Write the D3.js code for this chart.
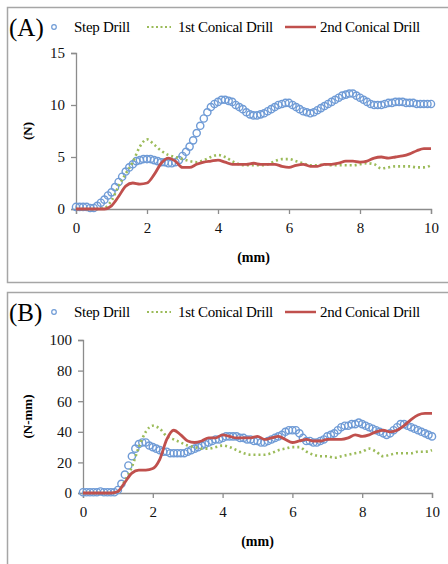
<!DOCTYPE html>
<html>
<head>
<meta charset="utf-8">
<script src="https://cdn.jsdelivr.net/npm/d3@7"></script>
<style>
  body { margin: 0; background: #fff; }
  svg text { font-family: "Liberation Serif", "Times New Roman", Times, "DejaVu Serif", serif !important; }
</style>
</head>
<body>
<div id="chart"></div>
<script>
// Drilling force (A) and torque (B) vs. depth for three drills

// depth grid for step drill (circle markers), mm
const depthFine = [0,0.1,0.2,0.3,0.4,0.5,0.6,0.7,0.8,0.9,1,1.1,1.2,1.3,1.4,1.5,1.6,1.7,1.8,1.9,2,
  2.1,2.2,2.3,2.4,2.5,2.6,2.7,2.8,2.9,3,3.1,3.2,3.3,3.4,3.5,3.6,3.7,3.8,3.9,4,
  4.1,4.2,4.3,4.4,4.5,4.6,4.7,4.8,4.9,5,5.1,5.2,5.3,5.4,5.5,5.6,5.7,5.8,5.9,6,
  6.1,6.2,6.3,6.4,6.5,6.6,6.7,6.8,6.9,7,7.1,7.2,7.3,7.4,7.5,7.6,7.7,7.8,7.9,8,
  8.1,8.2,8.3,8.4,8.5,8.6,8.7,8.8,8.9,9,9.1,9.2,9.3,9.4,9.5,9.6,9.7,9.8,9.9,10];

// depth grid for the two conical drills (lines), mm
const depthCoarse = [0,0.2,0.4,0.6,0.8,1,1.2,1.4,1.6,1.8,2,2.2,2.4,2.6,2.8,3,3.2,3.4,3.6,3.8,4,
  4.2,4.4,4.6,4.8,5,5.2,5.4,5.6,5.8,6,6.2,6.4,6.6,6.8,7,7.2,7.4,7.6,7.8,8,
  8.2,8.4,8.6,8.8,9,9.2,9.4,9.6,9.8,10];

// (A) thrust force, N
const stepForce = [0.2,0.2,0.2,0.2,0.1,0.1, 0.3,0.6,0.9,1.3,1.6, 2.1,2.6,3.1,3.6,4.0,
  4.3,4.6,4.7,4.8,4.8, 4.8,4.7,4.6,4.5,4.5, 4.4,4.4,4.5,4.7,5.1,
  5.5,6.0,6.6,7.3,8.0, 8.7,9.3,9.8,10.1,10.3, 10.5,10.5,10.4,10.3,10.0,
  9.8,9.6,9.3,9.1,9.0, 9.0,9.1,9.2,9.4,9.6, 9.8,10.0,10.1,10.2,10.2,
  10.0,9.8,9.6,9.4,9.3, 9.2,9.3,9.5,9.7,9.9, 10.1,10.3,10.5,10.7,10.9,
  11.0,11.1,11.1,10.9,10.7, 10.5,10.3,10.1,10.0,10.0, 10.0,10.1,10.2,10.2,10.3,
  10.3,10.3,10.2,10.2,10.2, 10.1,10.1,10.1,10.1,10.1];
const conical1Force = [0,0,0,0,0.1,0.8,2.2,3.4,4.5,6.0, 6.7,6.2,5.6,5.2,5.0,4.8,4.6,4.5,4.7,5.0,
  5.2,5.0,4.6,4.3,4.2,4.2,4.2,4.3,4.6,4.8, 4.8,4.6,4.4,4.2,4.2,4.3,4.2,4.2,4.2,4.2,
  4.3,4.4,4.3,3.9,4.0,4.1,4.1,4.1,4.0,4.0, 4.2];
const conical2Force = [0,0,0,0,0,0.3,1.2,2.2,2.5,2.4, 2.5,3.3,4.4,4.9,4.6,4.0,4.0,4.3,4.5,4.6,
  4.7,4.5,4.3,4.3,4.3,4.4,4.3,4.3,4.3,4.1, 4.0,4.2,4.3,4.1,4.1,4.3,4.3,4.4,4.6,4.6,
  4.5,4.6,4.9,5.0,4.9,5.0,5.1,5.3,5.6,5.8, 5.8];

// (B) torque, N-mm
const stepTorque = [0.5,0.5,0.5,0.5,0.5,1.0, 0.5,0.5,0.5,0.5,2, 6,12,18,24,29,
  32,33,33,31,30, 29,28,27,27,26, 26,26,26,26,27, 28,29,30,31,32, 33,34,35,35,36,
  37,37,37,37,36, 36,35,35,34,34, 33,33,34,35,36, 37,38,40,41,41,
  41,39,36,34,34, 33,33,34,35,37, 38,39,41,43,44, 44,45,45,46,45,
  44,43,42,41,40, 39,38,39,41,43, 45,45,44,43,42, 41,40,39,38,37];
const conical1Torque = [0,0,0,0,0,1,8,17,30,40, 44,42,37,35,33,31,30,29,29,30,
  31,30,28,26,25,25,25,26,28,29, 30,30,27,25,24,24,23,24,25,26,
  27,29,27,24,25,26,26,26,27,27, 28];
const conical2Torque = [0,0,0,0,0,1,7,13,15,15, 16,22,35,41,38,34,33,34,36,36,
  38,37,36,36,36,37,35,36,37,35, 33,34,35,34,34,35,35,35,36,38,
  37,38,40,41,40,41,44,48,51,52, 52];

const xTicks = [0, 2, 4, 6, 8, 10];
const forceTicks = [0, 5, 10, 15];
const torqueTicks = [0, 20, 40, 60, 80, 100];
const seriesNames = ["Step Drill", "1st Conical Drill", "2nd Conical Drill"];

const W = 448, H = 564;
const BLUE = "#6f9bd6", GREEN = "#9bbb59", RED = "#c0504d", AXIS = "#8c8c8c";
const SERIF = "'Liberation Serif', 'Times New Roman', Times, 'DejaVu Serif', serif";

let svg = d3.select("#chart").append("svg")
    .attr("width", W)
    .attr("height", H)
    .attr("font-family", SERIF)
    .style("background", "#fff");

function drawPanel(cfg) {
    let g = svg.append("g");

    // panel frame
    g.append("rect")
        .attr("x", 7.5).attr("y", cfg.boxTop)
        .attr("width", 460).attr("height", cfg.boxH)
        .attr("fill", "none")
        .attr("stroke", "#a6a6a6")
        .attr("stroke-width", 1.5);

    let x = d3.scaleLinear().domain([0, 10]).range([cfg.left, cfg.right]);
    let y = d3.scaleLinear().domain([0, cfg.yMax]).range([cfg.bottom, cfg.top]);

    let xAxis = g.append("g")
        .attr("transform", `translate(0, ${cfg.bottom})`)
        .call(d3.axisBottom(x).tickValues(xTicks).tickSize(5).tickPadding(8));
    let yAxis = g.append("g")
        .attr("transform", `translate(${cfg.left}, 0)`)
        .call(d3.axisLeft(y).tickValues(cfg.yTicks).tickSize(5).tickPadding(6));
    [xAxis, yAxis].forEach(function(a) {
        a.attr("font-family", SERIF).attr("font-size", 15);
        a.select(".domain").attr("stroke", AXIS).attr("stroke-width", 1.3);
        a.selectAll(".tick line").attr("stroke", AXIS).attr("stroke-width", 1.3);
        a.selectAll(".tick text").attr("fill", "#111");
    });

    // axis titles
    g.append("text")
        .attr("x", (cfg.left + cfg.right) / 2)
        .attr("y", cfg.bottom + 53)
        .attr("text-anchor", "middle")
        .style("font-size", "14px")
        .style("font-weight", "bold")
        .text("(mm)");
    g.append("text")
        .attr("transform", `translate(32, ${(cfg.top + cfg.bottom) / 2}) rotate(-90)`)
        .attr("text-anchor", "middle")
        .style("font-size", "13px")
        .style("font-weight", "bold")
        .text(cfg.yLabel);

    let line = d3.line()
        .x(function(d) { return x(d[0]); })
        .y(function(d) { return y(d[1]); })
        .curve(d3.curveMonotoneX);

    // step drill markers
    g.append("g").selectAll("circle")
        .data(d3.zip(depthFine, cfg.step))
        .enter()
        .append("circle")
        .attr("cx", function(d) { return x(d[0]); })
        .attr("cy", function(d) { return y(d[1]); })
        .attr("r", 3.6)
        .attr("fill", "none")
        .attr("stroke", BLUE)
        .attr("stroke-width", 1.4);

    g.append("path")
        .datum(d3.zip(depthCoarse, cfg.conical1))
        .attr("d", line)
        .attr("fill", "none")
        .attr("stroke", GREEN)
        .attr("stroke-width", 2.6)
        .attr("stroke-dasharray", "2,3");

    g.append("path")
        .datum(d3.zip(depthCoarse, cfg.conical2))
        .attr("d", line)
        .attr("fill", "none")
        .attr("stroke", RED)
        .attr("stroke-width", 2.8);

    // panel letter and legend
    let ly = cfg.legendY;
    g.append("text")
        .attr("x", 9).attr("y", ly + 9)
        .style("font-size", "25px")
        .text(cfg.letter);
    g.append("circle")
        .attr("cx", 54).attr("cy", ly)
        .attr("r", 2.3)
        .attr("fill", "none")
        .attr("stroke", BLUE)
        .attr("stroke-width", 1.2);
    g.append("line")
        .attr("x1", 147).attr("x2", 171).attr("y1", ly).attr("y2", ly)
        .attr("stroke", GREEN).attr("stroke-width", 2).attr("stroke-dasharray", "2,2.5");
    g.append("line")
        .attr("x1", 285).attr("x2", 316).attr("y1", ly).attr("y2", ly)
        .attr("stroke", RED).attr("stroke-width", 2.5);
    let legendX = [74, 178, 320];
    seriesNames.forEach(function(name, i) {
        g.append("text")
            .attr("x", legendX[i]).attr("y", ly + 5)
            .style("font-size", "15px")
            .style("letter-spacing", "-0.3px")
            .text(name);
    });
}

drawPanel({
    letter: "(A)", boxTop: 7.5, boxH: 275, legendY: 27,
    left: 76, right: 431, top: 53, bottom: 209,
    yMax: 15, yTicks: forceTicks, yLabel: "(N)",
    step: stepForce, conical1: conical1Force, conical2: conical2Force
});

drawPanel({
    letter: "(B)", boxTop: 292.5, boxH: 300, legendY: 312,
    left: 83, right: 432, top: 340, bottom: 493,
    yMax: 100, yTicks: torqueTicks, yLabel: "(N-mm)",
    step: stepTorque, conical1: conical1Torque, conical2: conical2Torque
});
</script>
</body>
</html>
